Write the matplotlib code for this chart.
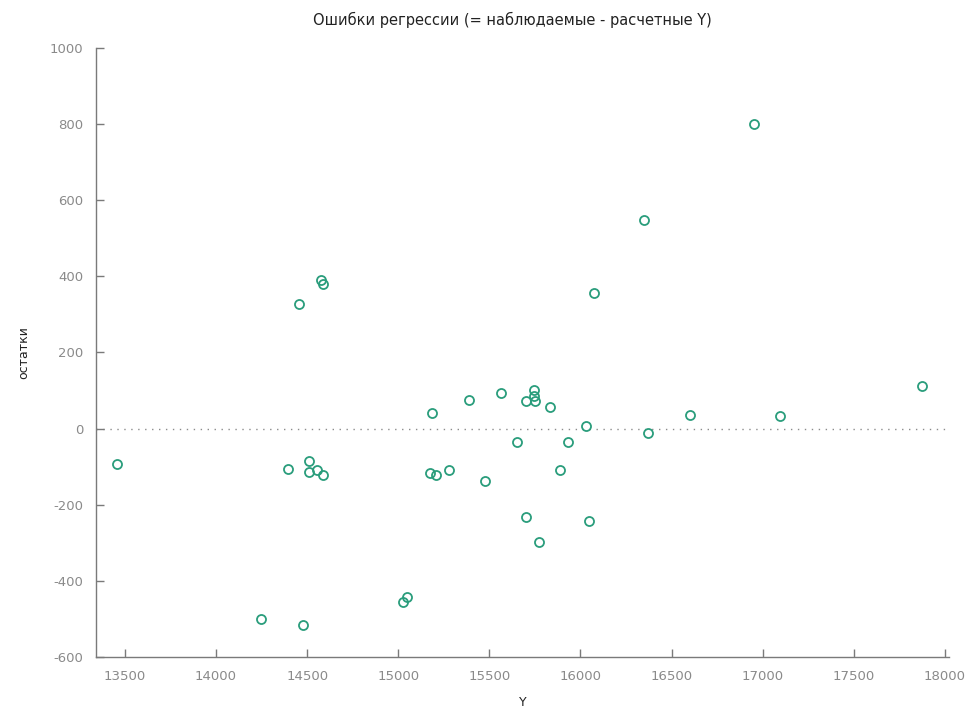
import matplotlib
matplotlib.use("Agg")
import matplotlib.pyplot as plt

# Fitted Y values and regression residuals
fitted_y = [13454, 14248, 14393, 14457, 14477, 14508, 14508, 14552, 14575, 14587,
            14588, 15028, 15046, 15172, 15187, 15207, 15280, 15390, 15474, 15562,
            15651, 15703, 15703, 15745, 15745, 15753, 15774, 15831, 15887, 15931,
            16032, 16047, 16074, 16350, 16369, 16601, 16954, 17095, 17876]
residuals = [-93, -499, -106, 328, -516, -84, -113, -108, 391, 380,
             -121, -455, -442, -117, 40, -122, -109, 76, -137, 93,
             -36, 73, -232, 101, 85, 72, -297, 56, -109, -36,
             8, -244, 357, 549, -11, 37, 801, 32, 113]

x_ticks = [13500, 14000, 14500, 15000, 15500, 16000, 16500, 17000, 17500, 18000]
y_ticks = [-600, -400, -200, 0, 200, 400, 600, 800, 1000]

title = "Ошибки регрессии (= наблюдаемые - расчетные Y)"
x_label = "Y"
y_label = "остатки"

plt.rcParams['font.family'] = ['DejaVu Sans']
plt.rcParams['axes.unicode_minus'] = False

fig = plt.figure(figsize=(9.69, 7.14), dpi=100)
ax = fig.add_axes([96 / 969, 1 - 657 / 714, (949 - 96) / 969, (657 - 48) / 714])

axis_grey = '#7a7a7a'
point_color = '#2a9d7c'

ax.axhline(0, color='#8c8c8c', linewidth=1.0, linestyle=(0, (1, 4)), zorder=1)
ax.plot(fitted_y, residuals, linestyle='none', marker='o', markersize=6.5,
        markerfacecolor='none', markeredgecolor=point_color, markeredgewidth=1.3,
        zorder=3)

ax.set_xlim(13341, 18023)
ax.set_ylim(-600, 1000)
ax.set_xticks(x_ticks)
ax.set_yticks(y_ticks)

for side in ('top', 'right'):
    ax.spines[side].set_visible(False)
for side in ('left', 'bottom'):
    ax.spines[side].set_color(axis_grey)
    ax.spines[side].set_linewidth(1.0)

ax.tick_params(direction='in', length=6, width=1, color=axis_grey,
               labelcolor='#8a8a8a', labelsize=9.5, pad=9)

ax.set_xlabel(x_label, fontsize=9, color='#222222', labelpad=10)
ax.set_ylabel(y_label, fontsize=9, color='#222222', labelpad=14)
fig.text(512 / 969, 1 - 20 / 714, title, ha='center', va='center',
         fontsize=10.5, color='#222222')

fig.savefig('out.png', dpi=100, facecolor='white')
